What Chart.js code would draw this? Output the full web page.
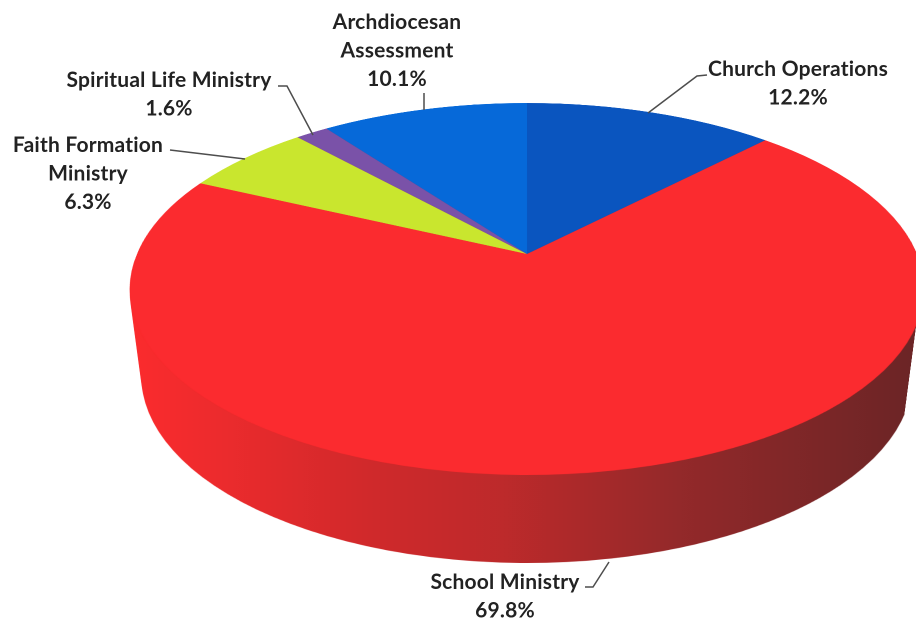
<!DOCTYPE html>
<html>
<head>
<meta charset="utf-8">
<title>Ministry budget</title>
<script src="https://cdn.jsdelivr.net/npm/chart.js@4/dist/chart.umd.min.js"></script>
<style>
    html, body { margin: 0; background: #fff; overflow: hidden; }
    canvas { display: block; }
</style>
</head>
<body>
<canvas id="pieChart" width="916" height="619"></canvas>
<script>
var categories = ['Church Operations', 'School Ministry', 'Faith Formation Ministry', 'Spiritual Life Ministry', 'Archdiocesan Assessment'];
var shares = [12.2, 69.8, 6.3, 1.6, 10.1];
var sliceColors = ['#0a55bf', '#fb2b2f', '#c9e62e', '#7a52a8', '#0669d9'];

// how each label wraps, where it sits, and its leader line
var labelBoxes = [
    { lines: ['Church Operations'], x: 798, y: 69, leader: [[707, 75], [697, 76], [648, 113]] },
    { lines: ['School Ministry'], x: 505, y: 582, leader: [[585, 587], [593, 587], [609, 562]] },
    { lines: ['Faith Formation', 'Ministry'], x: 88, y: 145, leader: [[170, 150], [245, 159]] },
    { lines: ['Spiritual Life Ministry'], x: 169, y: 80, leader: [[278, 86], [287, 86], [313, 135]] },
    { lines: ['Archdiocesan', 'Assessment'], x: 397, y: 22, leader: [[424, 93], [424, 110]] }
];

// perspective of the top face: apex, far and near rim
var apexX = 527, apexY = 254, farY = 103, nearY = 475, faceRadius = 390;
var persp = (2 * apexY - farY - nearY) / (nearY - farY);
var perspA = nearY * (1 + persp) - apexY;
var sideDepth = 88, sideShrink = 0.03;

function blankLike(canvas) {
    var c = document.createElement('canvas');
    c.width = canvas.width;
    c.height = canvas.height;
    return c;
}

// Tilts the flat pie Chart.js has drawn into a 3D looking disc
var tiltPlugin = {
    id: 'tilt',
    afterDatasetsDraw: function (chart) {
        var ctx = chart.ctx, canvas = chart.canvas;
        var dpr = chart.currentDevicePixelRatio;
        var arc = chart.getDatasetMeta(0).data[0];
        var R = arc.outerRadius;

        var flat = blankLike(canvas);
        flat.getContext('2d').drawImage(canvas, 0, 0);

        var face = blankLike(canvas);
        var fctx = face.getContext('2d');
        var rowV = function (y) { return (y - apexY) / (perspA - y * persp); };
        for (var py = farY * dpr; py < nearY * dpr; py++) {
            var v0 = rowV(py / dpr), v1 = rowV((py + 1) / dpr);
            var half = faceRadius / (1 + persp * (v0 + v1) / 2);
            fctx.drawImage(flat,
                (arc.x - R) * dpr, (arc.y + v0 * R) * dpr, 2 * R * dpr, (v1 - v0) * R * dpr,
                (apexX - half) * dpr, py, 2 * half * dpr, 1);
        }

        var w = chart.width, h = chart.height;
        ctx.clearRect(0, 0, w, h);

        // side wall: stacked copies of the face, then shaded
        for (var t = sideDepth; t > 0; t -= 0.5) {
            var s = 1 - sideShrink * t / sideDepth;
            ctx.drawImage(face, apexX * (1 - s), t, w * s, h);
        }
        var shade = ctx.createLinearGradient(140, 0, 912, 0);
        shade.addColorStop(0, '#fa2b2d');
        shade.addColorStop(0.12, '#ea2b2d');
        shade.addColorStop(0.3, '#d0292b');
        shade.addColorStop(0.47, '#bd2a2b');
        shade.addColorStop(0.7, '#93292a');
        shade.addColorStop(1, '#6c2526');
        ctx.save();
        ctx.globalCompositeOperation = 'source-atop';
        ctx.fillStyle = shade;
        ctx.fillRect(0, 0, w, h);
        ctx.restore();

        ctx.drawImage(face, 0, 0, w, h);
    },
    afterDraw: function (chart) {
        var ctx = chart.ctx;
        ctx.save();
        ctx.font = 'bold 21px Lato';
        ctx.letterSpacing = '0.2px';
        ctx.textAlign = 'center';
        ctx.textBaseline = 'middle';
        labelBoxes.forEach(function (box, i) {
            ctx.strokeStyle = '#4d4d4d';
            ctx.lineWidth = 1.5;
            ctx.beginPath();
            box.leader.forEach(function (p, j) {
                if (j === 0) { ctx.moveTo(p[0], p[1]); } else { ctx.lineTo(p[0], p[1]); }
            });
            ctx.stroke();

            ctx.fillStyle = '#222222';
            var rows = box.lines.concat(shares[i].toFixed(1) + '%');
            rows.forEach(function (row, j) {
                ctx.fillText(row, box.x, box.y + j * 28.5);
            });
        });
        ctx.restore();
    }
};

new Chart(document.getElementById('pieChart'), {
    type: 'pie',
    plugins: [tiltPlugin],
    data: {
        labels: categories,
        datasets: [{
            data: shares,
            backgroundColor: sliceColors,
            borderWidth: 0
        }]
    },
    options: {
        responsive: false,
        animation: false,
        devicePixelRatio: 2,
        layout: { padding: 0 },
        plugins: {
            legend: { display: false },
            tooltip: { enabled: false }
        }
    }
});
</script>
</body>
</html>
